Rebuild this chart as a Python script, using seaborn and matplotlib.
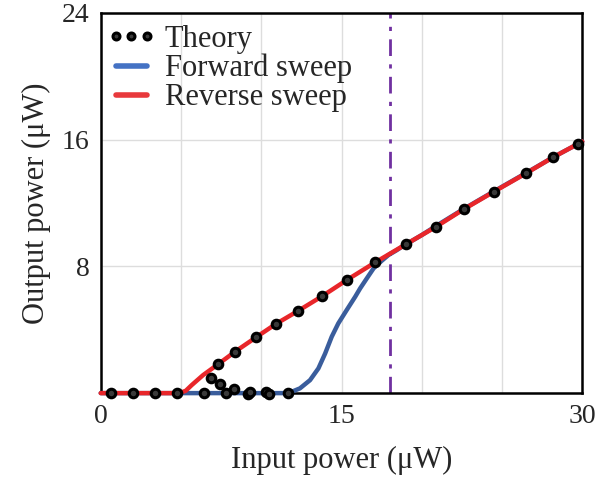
import numpy as np
import pandas as pd
import matplotlib
matplotlib.use("Agg")
import matplotlib.pyplot as plt
import seaborn as sns
from matplotlib.lines import Line2D

# theory points (lower branch + upper branch)
theory_x = [0.62, 2.0, 3.37, 4.78, 6.45, 6.9, 7.42, 7.8, 8.32, 9.19, 9.3, 10.27, 10.48, 11.69,
            7.32, 8.36, 9.67, 10.9, 12.31, 13.81, 15.33, 17.11, 19.0, 20.87, 22.6, 24.5, 26.5, 28.18, 29.74]
theory_y = [0.0, 0.0, 0.0, 0.0, 0.0, 0.93, 0.55, 0.0, 0.25, -0.05, 0.08, 0.08, -0.05, 0.0,
            1.81, 2.61, 3.52, 4.36, 5.2, 6.13, 7.14, 8.26, 9.39, 10.49, 11.6, 12.72, 13.88, 14.89, 15.73]

# forward sweep (blue)
fwd_x = [0, 11.69, 12.41, 13.04, 13.56, 13.98, 14.39, 14.8, 15.32, 15.85, 16.16, 16.6, 17.0, 17.5,
         17.93, 18.4, 18.86, 20.0, 20.9, 22.6, 24.5, 26.5, 28.2, 30]
fwd_y = [0, 0, 0.3, 0.82, 1.56, 2.5, 3.56, 4.4, 5.24, 6.08, 6.61, 7.28, 7.88, 8.35,
         8.72, 9.0, 9.3, 9.98, 10.56, 11.62, 12.74, 13.9, 14.9, 15.88]

# reverse sweep (red)
rev_x = [0, 4.9, 5.3, 5.66, 6.38, 7.32, 8.36, 9.67, 10.9, 12.31, 13.81, 15.33, 17.11, 19.0,
         20.87, 22.6, 24.5, 26.5, 28.18, 30]
rev_y = [0, 0, 0.15, 0.5, 1.14, 1.83, 2.61, 3.52, 4.36, 5.2, 6.13, 7.14, 8.26, 9.39,
         10.49, 11.6, 12.72, 13.88, 14.89, 15.88]

threshold_x = 18.0

x_grid = [0, 5, 10, 15, 20, 25, 30]
x_labels = ["0", "", "", "15", "", "", "30"]
y_grid = [0, 8, 16, 24]
y_labels = ["", "8", "16", "24"]

sns.set_style("white")
plt.rcParams["font.family"] = ["Liberation Serif", "DejaVu Serif"]

fig, ax = plt.subplots(figsize=(5.96, 4.8), dpi=100)
fig.subplots_adjust(left=0.169, right=0.977, top=0.973, bottom=0.181)

blue = "#3a5d9c"
red = "#e8262a"

sns.lineplot(x=fwd_x, y=fwd_y, ax=ax, color=blue, lw=3.2, sort=False, clip_on=False, zorder=3)
sns.lineplot(x=rev_x, y=rev_y, ax=ax, color=red, lw=3.2, sort=False, clip_on=False, zorder=4)
ax.axvline(threshold_x, color="#7030a0", lw=2, ls=(0, (6, 3, 1.5, 3)), zorder=2)
sns.scatterplot(x=theory_x, y=theory_y, ax=ax, marker="o", s=38, facecolor="#3a3a3a",
                edgecolor="black", linewidth=2.2, clip_on=False, zorder=5)

ax.set_xlim(0, 30)
ax.set_ylim(0, 24)
ax.set_xticks(x_grid)
ax.set_xticklabels(x_labels)
ax.set_yticks(y_grid)
ax.set_yticklabels(y_labels)
ax.tick_params(length=0, labelsize=20, pad=8)
ax.grid(True, color="#dddddd", lw=1)
for s in ax.spines.values():
    s.set_visible(True)
    s.set_color("black")
    s.set_linewidth(1.8)

ax.set_xlabel("Input power (\u03bcW)", fontsize=22, labelpad=12)
ax.set_ylabel("Output power (\u03bcW)", fontsize=22, labelpad=8)

handles = [
    Line2D([], [], ls="none", marker="o", ms=5, mfc="#3a3a3a", mec="black", mew=2.2),
    Line2D([], [], color="#4472c4", lw=4),
    Line2D([], [], color="#e8393c", lw=4),
]
ax.legend(handles, ["Theory", "Forward sweep", "Reverse sweep"], loc="upper left",
          bbox_to_anchor=(0.0, 0.985), frameon=False, fontsize=22, numpoints=3,
          handlelength=1.6, handletextpad=0.3, labelspacing=0.0,
          borderaxespad=0.1, borderpad=0.1)

fig.savefig("out.png", dpi=100)
